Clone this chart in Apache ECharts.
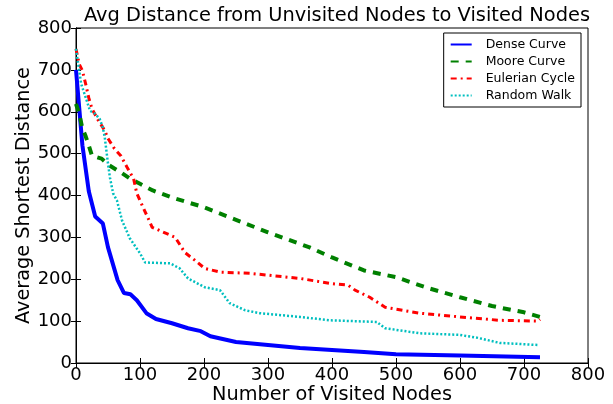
<!doctype html>
<html>
<head>
<meta charset="utf-8">
<title></title>
<script src="https://cdn.jsdelivr.net/npm/echarts@6/dist/echarts.min.js"></script>
<style>html,body{margin:0;padding:0;background:#fff}</style>
</head>
<body>
<div id="main" style="width:613px;height:404px;"></div>
<script>
var seriesNames = ['Dense Curve', 'Moore Curve', 'Eulerian Cycle', 'Random Walk'];

var denseX = [0, 5, 10, 20, 30, 42, 50, 65, 75, 85, 95, 110, 125, 150, 175, 195, 210, 250, 300, 350, 400, 450, 500, 600, 725];
var denseY = [700, 610, 520, 410, 350, 333, 276, 198, 167, 164, 150, 119, 105, 95, 83, 76, 64, 50, 43, 36, 31, 26, 21, 18, 14];

var mooreX = [0, 5, 10, 15, 20, 25, 40, 50, 70, 85, 100, 120, 150, 200, 250, 300, 365, 400, 450, 500, 550, 600, 650, 700, 725];
var mooreY = [619, 595, 560, 542, 519, 495, 488, 474, 455, 440, 428, 412, 395, 372, 342, 312, 276, 252, 221, 205, 179, 157, 136, 121, 110];

var eulerX = [0, 5, 10, 15, 20, 25, 35, 45, 50, 60, 70, 80, 90, 95, 105, 112, 119, 140, 155, 170, 186, 201, 225, 272, 350, 397, 425, 436, 459, 483, 537, 600, 662, 722, 725];
var eulerY = [750, 714, 698, 667, 633, 607, 579, 555, 536, 512, 495, 467, 440, 405, 371, 348, 324, 310, 300, 264, 245, 226, 217, 214, 202, 190, 186, 174, 157, 133, 119, 110, 102, 100, 104];

var walkX = [0, 8, 22, 30, 37, 42, 45, 50, 53, 58, 64, 72, 84, 100, 108, 147, 162, 175, 201, 225, 240, 264, 287, 350, 397, 470, 483, 537, 600, 628, 662, 722];
var walkY = [750, 667, 602, 595, 583, 562, 538, 476, 443, 405, 388, 340, 298, 262, 240, 238, 226, 202, 181, 174, 143, 126, 119, 110, 102, 98, 83, 71, 67, 60, 48, 43];

var xTicks = [0, 100, 200, 300, 400, 500, 600, 700, 800];
var yTicks = [0, 100, 200, 300, 400, 500, 600, 700, 800];

function pairs(xs, ys) {
	return xs.map(function (x, i) { return [x, ys[i]]; });
}

var myChart = echarts.init(document.getElementById('main'));
var font = 'DejaVu Sans';

var styles = [
	{ color: '#0000ff', width: 4, type: 'solid' },
	{ color: '#008000', width: 4, type: [8, 7] },
	{ color: '#ff0000', width: 3, type: [6, 4, 2, 4] },
	{ color: '#00bfbf', width: 2.5, type: [2, 2] }
];
var datas = [pairs(denseX, denseY), pairs(mooreX, mooreY), pairs(eulerX, eulerY), pairs(walkX, walkY)];

var series = seriesNames.map(function (name, i) {
	return {
		name: name,
		type: 'line',
		data: datas[i],
		symbol: 'none',
		smooth: false,
		color: styles[i].color,
		lineStyle: { color: styles[i].color, width: styles[i].width, type: styles[i].type }
	};
});

var option = {
	animation: false,
	title: {
		text: 'Avg Distance from Unvisited Nodes to Visited Nodes',
		left: 332, top: 1, textAlign: 'center',
		textStyle: { fontFamily: font, fontSize: 19.4, fontWeight: 'normal', color: '#000' }
	},
	legend: {
		orient: 'vertical',
		right: 32, top: 33,
		padding: [5, 6, 5, 6],
		itemGap: 4,
		itemWidth: 21, itemHeight: 10,
		borderColor: '#000', borderWidth: 1,
		itemStyle: { opacity: 0 },
		textStyle: { fontFamily: font, fontSize: 12.5, color: '#000', padding: [0, 0, 0, 9] },
		data: seriesNames
	},
	grid: { left: 76, right: 25, top: 28, bottom: 41, outerBoundsMode: 'none', containLabel: false, show: true, borderColor: '#000', borderWidth: 1 },
	xAxis: [{
		type: 'value', min: 0, max: 800, interval: 100,
		name: 'Number of Visited Nodes', nameLocation: 'middle', nameGap: 22,
		nameMoveOverlap: false,
		nameTextStyle: { fontFamily: font, fontSize: 19.3, color: '#000' },
		axisLine: { lineStyle: { color: '#000' } },
		axisTick: { inside: true, length: 5, lineStyle: { color: '#000' } },
		axisLabel: { fontFamily: font, fontSize: 18, color: '#000', margin: 3 },
		splitLine: { show: false }
	}, {
		type: 'value', min: 0, max: 800, interval: 100, position: 'top',
		axisLine: { lineStyle: { color: '#000' } },
		axisTick: { inside: true, length: 5, lineStyle: { color: '#000' } },
		axisLabel: { show: false }, splitLine: { show: false }
	}],
	yAxis: [{
		type: 'value', min: 0, max: 800, interval: 100,
		name: 'Average Shortest Distance', nameLocation: 'middle', nameGap: 43,
		nameMoveOverlap: false,
		nameTextStyle: { fontFamily: font, fontSize: 19.3, color: '#000' },
		axisLine: { show: true, lineStyle: { color: '#000' } },
		axisTick: { show: true, inside: true, length: 5, lineStyle: { color: '#000' } },
		axisLabel: { fontFamily: font, fontSize: 18, color: '#000', margin: 4 },
		splitLine: { show: false }
	}, {
		type: 'value', min: 0, max: 800, interval: 100, position: 'right',
		axisLine: { show: true, lineStyle: { color: '#000' } },
		axisTick: { show: true, inside: true, length: 5, lineStyle: { color: '#000' } },
		axisLabel: { show: false }, splitLine: { show: false }
	}],
	series: series
};

myChart.setOption(option);
</script>
</body>
</html>
